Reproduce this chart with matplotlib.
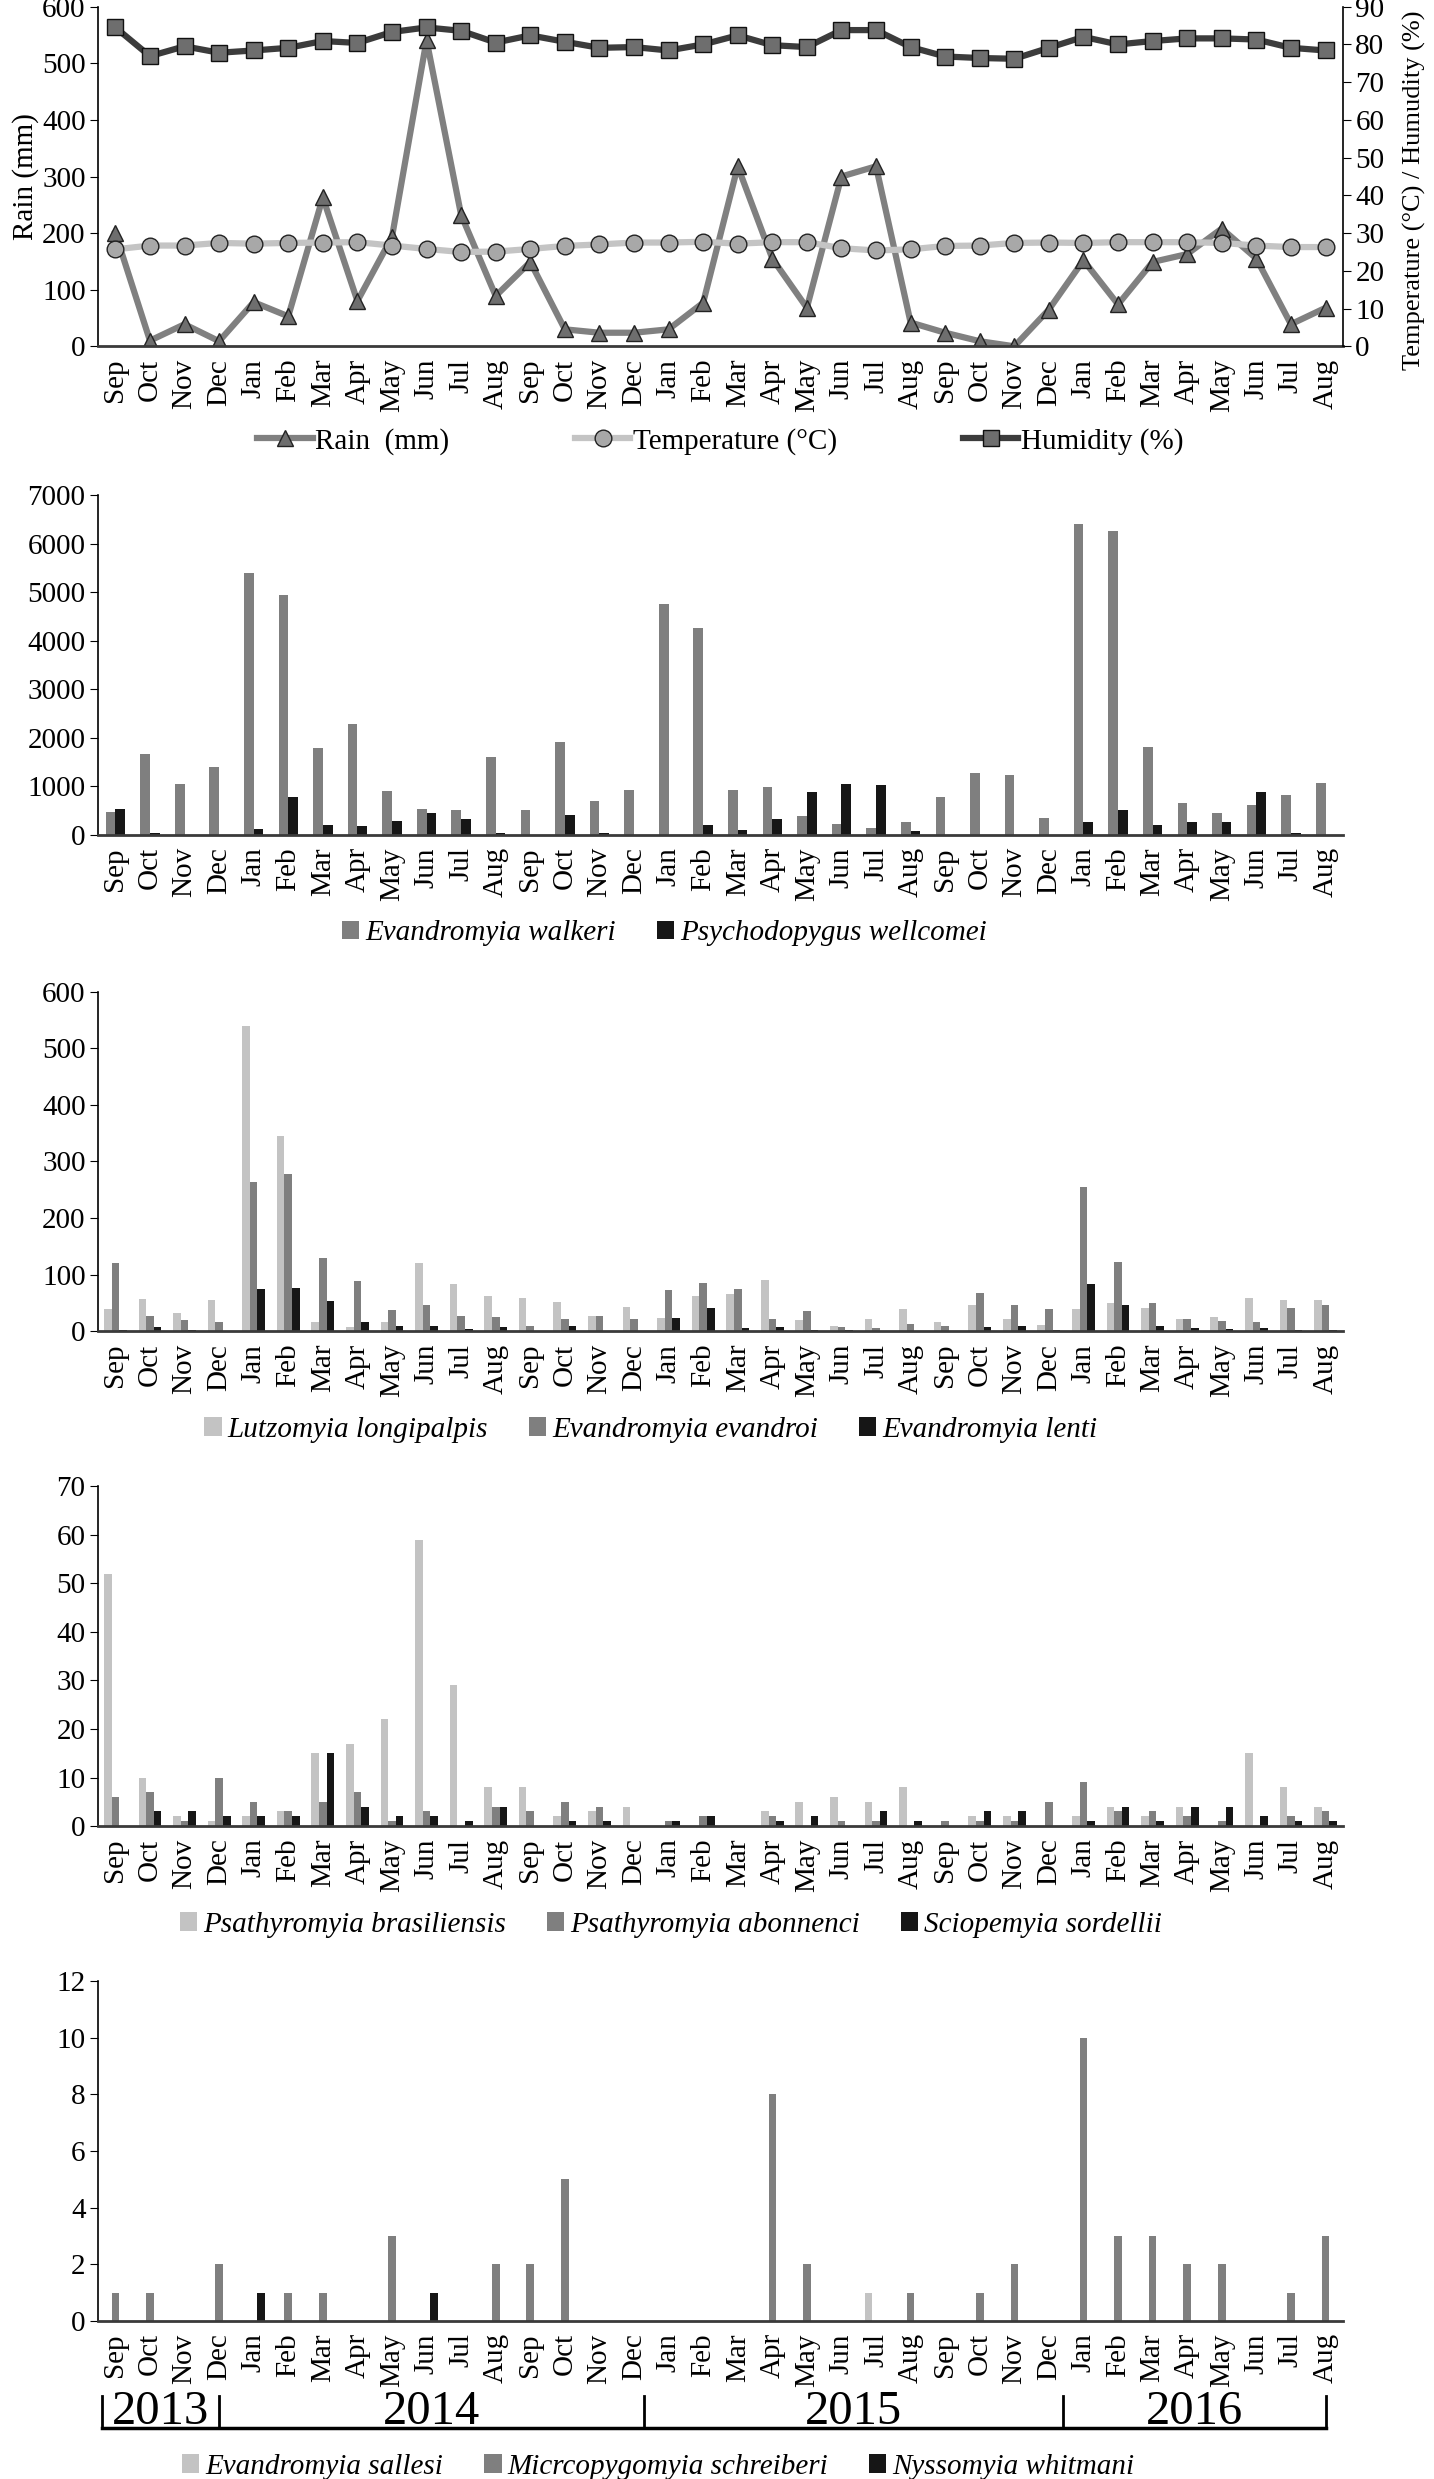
import numpy as np
import matplotlib
matplotlib.use("Agg")                 # no display, write straight to file
import matplotlib.pyplot as plt
from matplotlib.patches import Patch
from matplotlib.lines import Line2D
from matplotlib.transforms import blended_transform_factory

plt.rcParams["font.family"] = ["Liberation Serif", "DejaVu Serif"]

# Sep 2013 .. Aug 2016
MONTHS = ["Sep", "Oct", "Nov", "Dec", "Jan", "Feb", "Mar", "Apr",
          "May", "Jun", "Jul", "Aug"] * 3
YEARS = ["2013", "2014", "2015", "2016"]

# climate
rain = [200, 10, 39, 9, 78, 53, 263, 80, 193, 541, 232, 89,
        149, 30, 24, 24, 30, 77, 318, 155, 68, 300, 318, 42,
        24, 9, 0, 65, 152, 74, 149, 163, 208, 155, 39, 68]
temperature = [25.7, 26.7, 26.7, 27.4, 27.2, 27.4, 27.5, 27.6, 26.7, 25.8, 25.0, 25.1,
               25.8, 26.6, 27.0, 27.5, 27.5, 27.7, 27.2, 27.6, 27.6, 26.0, 25.4, 25.7,
               26.6, 26.7, 27.4, 27.5, 27.4, 27.6, 27.6, 27.6, 27.4, 26.7, 26.3, 26.3]
humidity = [84.5, 76.9, 79.5, 77.8, 78.4, 79.1, 80.9, 80.4, 83.3, 84.5, 83.6, 80.5,
            82.4, 80.7, 79.1, 79.3, 78.4, 80.0, 82.4, 79.8, 79.3, 83.8, 83.8, 79.3,
            76.8, 76.4, 76.2, 79.1, 82.0, 80.0, 80.9, 81.6, 81.6, 81.3, 79.1, 78.4]

# panel 2
walkeri = [470, 1660, 1040, 1400, 5400, 4950, 1790, 2290, 890, 530, 500, 1610,
           500, 1910, 690, 920, 4750, 4270, 930, 980, 390, 210, 140, 265,
           775, 1270, 1220, 350, 6400, 6250, 1810, 655, 455, 620, 815, 1075]
wellcomei = [520, 35, 0, 0, 110, 770, 190, 175, 280, 455, 320, 35,
             0, 410, 35, 0, 0, 205, 100, 330, 870, 1045, 1030, 75,
             0, 0, 0, 0, 270, 500, 195, 260, 265, 885, 35, 0]

# panel 3
longipalpis = [40, 57, 33, 55, 540, 345, 16, 7, 17, 120, 84, 62,
               59, 51, 27, 43, 24, 62, 65, 90, 20, 10, 21, 40,
               17, 46, 21, 11, 40, 49, 41, 22, 25, 59, 56, 55]
evandroi = [120, 27, 19, 17, 263, 278, 129, 88, 38, 47, 27, 25,
            10, 22, 27, 22, 73, 86, 74, 22, 35, 8, 6, 12,
            9, 68, 47, 40, 255, 123, 49, 21, 18, 17, 41, 47]
lenti = [3, 8, 2, 1, 74, 76, 54, 17, 9, 10, 4, 8,
         0, 9, 1, 0, 24, 41, 6, 8, 3, 2, 0, 0,
         0, 8, 9, 2, 84, 47, 9, 6, 4, 5, 2, 2]

# panel 4
brasiliensis = [52, 10, 2, 1, 2, 3, 15, 17, 22, 59, 29, 8,
                8, 2, 3, 4, 0, 0, 0, 3, 5, 6, 5, 8,
                0, 2, 2, 0, 2, 4, 2, 4, 0, 15, 8, 4]
abonnenci = [6, 7, 1, 10, 5, 3, 5, 7, 1, 3, 0, 4,
             3, 5, 4, 0, 1, 2, 0, 2, 0, 1, 1, 0,
             1, 1, 1, 5, 9, 3, 3, 2, 1, 0, 2, 3]
sordellii = [0, 3, 3, 2, 2, 2, 15, 4, 2, 2, 1, 4,
             0, 1, 1, 0, 1, 2, 0, 1, 2, 0, 3, 1,
             0, 3, 3, 0, 1, 4, 1, 4, 4, 2, 1, 1]

# panel 5
sallesi = [0, 0, 0, 0, 0, 0, 0, 0, 0, 0, 0, 0,
           0, 0, 0, 0, 0, 0, 0, 0, 0, 0, 1, 0,
           0, 0, 0, 0, 0, 0, 0, 0, 0, 0, 0, 0]
schreiberi = [1, 1, 0, 2, 0, 1, 1, 0, 3, 0, 0, 2,
              2, 5, 0, 0, 0, 0, 0, 8, 2, 0, 0, 1,
              0, 1, 2, 0, 10, 3, 3, 2, 2, 0, 1, 3]
whitmani = [0, 0, 0, 0, 1, 0, 0, 0, 0, 1, 0, 0,
            0, 0, 0, 0, 0, 0, 0, 0, 0, 0, 0, 0,
            0, 0, 0, 0, 0, 0, 0, 0, 0, 0, 0, 0]

LIGHT, MID, DARK = "#c3c3c3", "#7f7f7f", "#161616"
FS = 21
x = np.arange(len(MONTHS))

fig = plt.figure(figsize=(14.34, 24.79), dpi=100)
L, W = 0.0684, 0.8680
bottoms = [0.8603, 0.6633, 0.4630, 0.2634, 0.0638]
H = 0.137


def style(ax, ymax, step):
    ax.set_xlim(-0.5, len(MONTHS) - 0.5)
    ax.set_ylim(0, ymax)
    ax.set_yticks(np.arange(0, ymax + step / 2, step))
    ax.set_xticks(x)
    ax.set_xticklabels(MONTHS, rotation=90, va="top", ha="center")
    ax.tick_params(axis="x", length=0, pad=9, labelsize=FS)
    ax.tick_params(axis="y", direction="out", length=6, labelsize=FS, pad=3)
    ax.spines["top"].set_visible(False)
    ax.spines["right"].set_visible(False)
    ax.spines["bottom"].set_linewidth(2)
    ax.spines["bottom"].set_color("#3a3a3a")
    ax.spines["left"].set_linewidth(1.2)


def bar_legend(ax, names, colors, xc, yc=-0.29):
    handles = [Patch(facecolor=c, edgecolor="none") for c in colors]
    ax.legend(handles, names, loc="center", bbox_to_anchor=(xc, yc),
              ncol=len(names), frameon=False,
              prop={"style": "italic", "size": FS},
              handlelength=0.6, handleheight=0.6, handletextpad=0.2,
              columnspacing=1.4)


# ---- panel 1: climate
ax1 = fig.add_axes([L, bottoms[0], W, H])
style(ax1, 600, 100)
ax1.plot(x, rain, color="#808080", lw=4.5, marker="^", ms=12,
         mfc="#6e6e6e", mec="#222222", mew=1)
ax1.set_ylabel("Rain (mm)", fontsize=FS, labelpad=2)
ax2 = ax1.twinx()
ax2.set_ylim(0, 90)
ax2.set_yticks(np.arange(0, 91, 10))
ax2.tick_params(axis="y", direction="out", length=6, labelsize=FS, pad=3)
ax2.spines["top"].set_visible(False)
ax2.spines["bottom"].set_visible(False)
ax2.spines["left"].set_visible(False)
ax2.spines["right"].set_linewidth(1.2)
ax2.plot(x, temperature, color="#c4c4c4", lw=4.5, marker="o", ms=12,
         mfc="#a8a8a8", mec="#222222", mew=1)
ax2.plot(x, humidity, color="#3c3c3c", lw=4.5, marker="s", ms=12,
         mfc="#6e6e6e", mec="#111111", mew=1)
ax2.set_ylabel("Temperature (°C) / Humudity (%)", fontsize=19)
ax2.yaxis.set_label_coords(1.048, 0.46)
h1 = [Line2D([], [], color="#808080", lw=4.5, marker="^", ms=12, mfc="#6e6e6e", mec="#222222"),
      Line2D([], [], color="#c4c4c4", lw=4.5, marker="o", ms=12, mfc="#a8a8a8", mec="#222222"),
      Line2D([], [], color="#3c3c3c", lw=4.5, marker="s", ms=12, mfc="#6e6e6e", mec="#111111")]
ax1.legend(h1, ["Rain  (mm)", "Temperature (°C)", "Humidity (%)"], loc="center",
           bbox_to_anchor=(0.5, -0.28), ncol=3, frameon=False, fontsize=FS,
           handlelength=1.9, handletextpad=0.1, columnspacing=4.3)

# ---- panel 2
ax = fig.add_axes([L, bottoms[1], W, H])
style(ax, 7000, 1000)
ax.bar(x - 0.14, walkeri, width=0.28, color=MID)
ax.bar(x + 0.14, wellcomei, width=0.28, color=DARK)
bar_legend(ax, ["Evandromyia walkeri", "Psychodopygus wellcomei"], [MID, DARK], 0.455)

# ---- panel 3
ax = fig.add_axes([L, bottoms[2], W, H])
style(ax, 600, 100)
ax.bar(x - 0.22, longipalpis, width=0.22, color=LIGHT)
ax.bar(x, evandroi, width=0.22, color=MID)
ax.bar(x + 0.22, lenti, width=0.22, color=DARK)
bar_legend(ax, ["Lutzomyia longipalpis", "Evandromyia evandroi", "Evandromyia lenti"],
           [LIGHT, MID, DARK], 0.444)

# ---- panel 4
ax = fig.add_axes([L, bottoms[3], W, H])
style(ax, 70, 10)
ax.bar(x - 0.22, brasiliensis, width=0.22, color=LIGHT)
ax.bar(x, abonnenci, width=0.22, color=MID)
ax.bar(x + 0.22, sordellii, width=0.22, color=DARK)
bar_legend(ax, ["Psathyromyia brasiliensis", "Psathyromyia abonnenci", "Sciopemyia sordellii"],
           [LIGHT, MID, DARK], 0.46)

# ---- panel 5
ax = fig.add_axes([L, bottoms[4], W, H])
style(ax, 12, 2)
ax.bar(x - 0.22, sallesi, width=0.22, color=LIGHT)
ax.bar(x, schreiberi, width=0.22, color=MID)
ax.bar(x + 0.22, whitmani, width=0.22, color=DARK)
bar_legend(ax, ["Evandromyia sallesi", "Micrcopygomyia schreiberi", "Nyssomyia whitmani"],
           [LIGHT, MID, DARK], 0.45, yc=-0.43)

# year brackets under the month labels
tr = blended_transform_factory(ax.transData, ax.transAxes)
seps = [-0.4, 3.0, 15.3, 27.4, 35.0]
ax.plot([seps[0], seps[-1]], [-0.315, -0.315], color="black", lw=2.5,
        transform=tr, clip_on=False)
for s in seps:
    ax.plot([s, s], [-0.315, -0.22], color="black", lw=2, transform=tr, clip_on=False)
for i, yr in enumerate(YEARS):
    ax.text((seps[i] + seps[i + 1]) / 2, -0.268, yr, transform=tr, fontsize=35,
            ha="center", va="center")

fig.savefig("out.png", dpi=100)
